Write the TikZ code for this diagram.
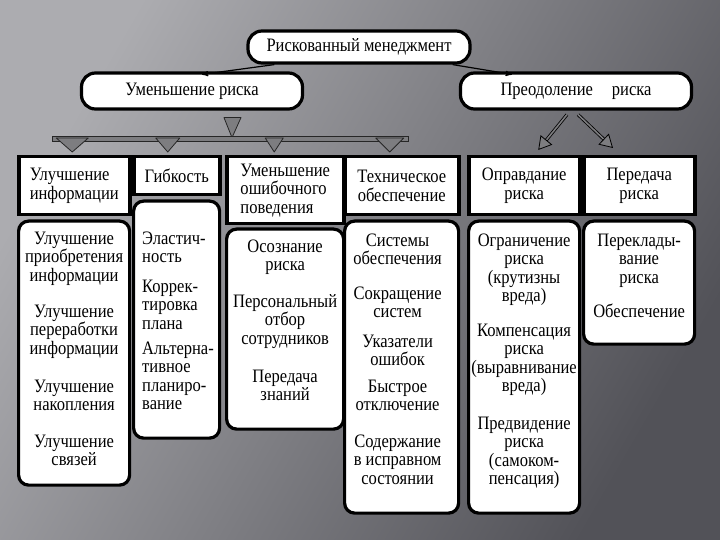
\documentclass[tikz,border=0pt]{standalone}
\usepackage{fontspec}
\setmainfont{Liberation Serif}[FakeStretch=0.87]
\usetikzlibrary{shapes, shapes.misc}
\usetikzlibrary{arrows, arrows.meta}
\usetikzlibrary{calc, positioning}
\definecolor{bglight}{RGB}{172,172,176}
\definecolor{bgdark}{RGB}{82,82,88}
\definecolor{trigray}{RGB}{125,125,128}
\newcommand{\diagfont}{\fontsize{19}{18.5}\selectfont}
\tikzset{
  topbox/.style={draw, fill=white, line width=3.2pt, rounded corners=14pt, inner sep=0pt},
  headbox/.style={draw, fill=white, line width=3.5pt, rectangle, anchor=north west, inner sep=0pt},
  lowbox/.style={draw, fill=white, line width=3.2pt, rounded corners=10pt, anchor=north west, inner sep=0pt},
  lowtext/.style={inner sep=0pt, align=center},
  tri/.style={fill=trigray, draw=black!85, line width=0.8pt, line join=round}
}

\begin{document}
\begin{tikzpicture}[x=1pt, y=-1pt, font=\diagfont]
  \useasboundingbox (0,0) rectangle (720,540);
  \shade[top color=bglight, bottom color=bgdark, shading angle=60] (0,0) rectangle (720,540);

  % upper level
  \node[topbox, minimum width=222pt, minimum height=32pt] (rm) at (359,47) {Рискованный менеджмент};
  \node[topbox, minimum width=221pt, minimum height=36pt] (ur) at (192,91) {Уменьшение риска};
  \node[topbox, minimum width=231pt, minimum height=36pt] (pr) at (576,91) {Преодоление\quad риска};
  \draw[>=stealth', ->, line width=1.2pt] ($(rm.south west)+(28,0)$) -- ($(ur.north)+(10,3)$);
  \draw[>=stealth', ->, line width=1.2pt] ($(rm.south east)+(-19,0)$) -- ($(pr.north west)+(53,3)$);

  % headings
  \node[headbox, minimum width=111pt, minimum height=58pt, align=left] (h1) at (17,155) {Улучшение\\информации};
  \node[headbox, minimum width=86pt, minimum height=38pt] (h2) at (132,155) {Гибкость};
  \node[headbox, minimum width=117pt, minimum height=67pt, align=left] (h3) at (225,155) {Уменьшение\\ошибочного\\поведения};
  \node[headbox, minimum width=114pt, minimum height=58pt, align=center] (h4) at (343,155) {Техническое\\обеспечение};
  \node[headbox, minimum width=111pt, minimum height=58pt, align=center] (h5) at (467,155) {Оправдание\\риска};
  \node[headbox, minimum width=111pt, minimum height=58pt, align=center] (h6) at (582,155) {Передача\\риска};

  % bracket under "Уменьшение риска"
  \draw[tri] ($(ur.south)+(32,7)$) -- ++(17,0) -- ($(ur.south)+(40,27)$) -- cycle;
  \draw[fill=trigray, draw=black!85, line width=0.7pt] ($(h1.north west)+(35,-19)$) rectangle ($(h4.north east)+(-52,-14)$);
  \foreach \n/\d/\w in {h1/-2/16, h2/-9/12, h3/-11/9, h4/-12/14}
    \draw[tri] ($(\n.north)+(\d-\w,-17)$) -- ++(2*\w,0) -- ($(\n.north)+(\d,-3)$) -- cycle;

  % arrows under "Преодоление риска"
  \draw[double=trigray, double distance=1.6pt, line width=0.8pt, -{Triangle[fill=trigray, length=13pt, width=15pt]}]
    ($(pr.south)+(-9,4)$) -- ($(h5.north)+(14,-5)$);
  \draw[double=trigray, double distance=1.6pt, line width=0.8pt, -{Triangle[fill=trigray, length=13pt, width=15pt]}]
    ($(pr.south)+(2,4)$) -- ($(h6.north west)+(31,-7)$);

  % lower boxes
  \node[lowbox, minimum width=111pt, minimum height=264pt] (l1) at ($(h1.south west)+(0,3)$) {};
  \node[lowbox, minimum width=86pt, minimum height=237pt] (l2) at ($(h2.south west)+(0,3)$) {};
  \node[lowbox, minimum width=117pt, minimum height=200pt] (l3) at ($(h3.south west)+(0,2)$) {};
  \node[lowbox, minimum width=114pt, minimum height=292pt] (l4) at ($(h4.south west)+(0,3)$) {};
  \node[lowbox, minimum width=111pt, minimum height=292pt] (l5) at ($(h5.south west)+(0,3)$) {};
  \node[lowbox, minimum width=111pt, minimum height=123pt] (l6) at ($(h6.south west)+(0,3)$) {};

  \node[lowtext, below=12pt of l1.north] (t1)
    {Улучшение\\приобретения\\информации\\[17.5pt]Улучшение\\переработки\\информации\\[19.5pt]Улучшение\\накопления\\[18pt]Улучшение\\связей};
  \node[lowtext, align=left, anchor=north west] (t2) at ($(l2.north west)+(10,32)$)
    {Эластич-\\ность\\[11pt]Коррек-\\тировка\\плана\\[6.5pt]Альтерна-\\тивное\\планиро-\\вание};
  \node[lowtext, below=12pt of l3.north] (t3)
    {Осознание\\риска\\[18pt]Персональный\\отбор\\сотрудников\\[19.5pt]Передача\\знаний};
  \node[lowtext, below=14pt of l4.north, xshift=-4pt] (t4)
    {Системы\\обеспечения\\[16pt]Сокращение\\систем\\[11pt]Указатели\\ошибок\\[8pt]Быстрое\\отключение\\[18pt]Содержание\\в исправном\\состоянии};
  \node[lowtext, below=14pt of l5.north] (t5)
    {Ограничение\\риска\\(крутизны\\вреда)\\[16pt]Компенсация\\риска\\(выравнивание\\вреда)\\[19pt]Предвидение\\риска\\(самоком-\\пенсация)};
  \node[lowtext, below=14pt of l6.north] (t6)
    {Переклады-\\вание\\риска\\[15.5pt]Обеспечение};
\end{tikzpicture}
\end{document}
